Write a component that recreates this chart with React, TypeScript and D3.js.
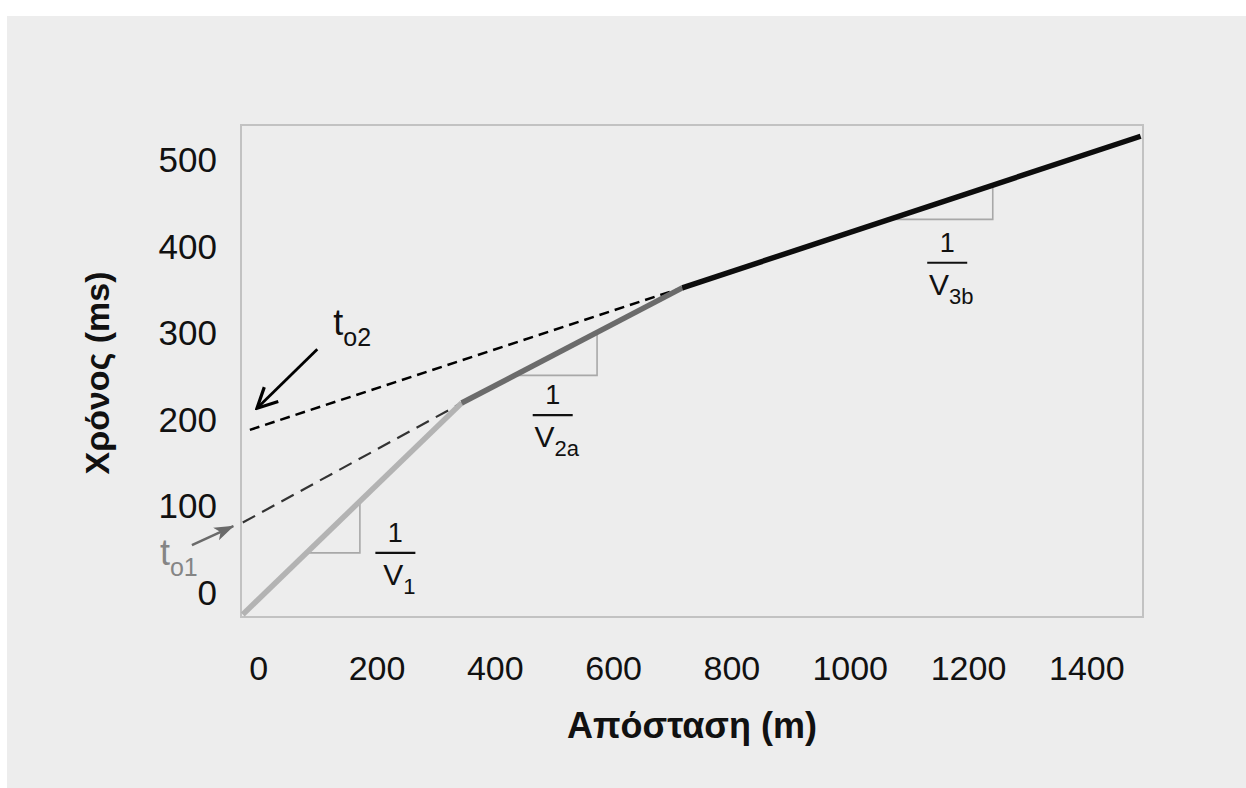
import React from "react";
import * as d3 from "d3";

// break points of the travel-time curve (distance m, time ms)
const breakX: number[] = [-27, 343, 716, 1491];
const breakT: number[] = [-25, 219, 352, 527];

// dashed back-extensions to the time axis (intercept times)
const interceptNames: string[] = ["o1", "o2"];
const interceptStartX: number[] = [-27, -15];
const interceptStartT: number[] = [81, 188];
const interceptEndX: number[] = [343, 716];
const interceptEndT: number[] = [219, 352];

// slope triangles: right-angle corner (distance, time) on each segment
const slopeNames: string[] = ["1", "2a", "3b"];
const slopeCornerX: number[] = [171, 572, 1241];
const slopeCornerT: number[] = [46, 251, 431];
const slopeLabelX: number[] = [231, 497, 1164];
const slopeLabelT: number[] = [46, 205, 381];

// t0 arrows (from -> to) and label anchors
const arrowFromX: number[] = [-113, 99];
const arrowFromT: number[] = [55, 281];
const arrowToX: number[] = [-43, -3];
const arrowToT: number[] = [77, 213];
const arrowLabelX: number[] = [-167, 126];
const arrowLabelT: number[] = [32, 297];

const xTicks: number[] = [0, 200, 400, 600, 800, 1000, 1200, 1400];
const yTicks: number[] = [0, 100, 200, 300, 400, 500];

const App: React.FC = () => {
    const width = 1246;
    const height = 788;
    const left = 241;
    const right = 1143;
    const top = 125;
    const bottom = 617;
    const font = "'Liberation Sans', Arial, sans-serif";

    const x = d3.scaleLinear().domain([-30, 1495]).range([left, right]);
    const y = d3.scaleLinear().domain([-28, 540]).range([bottom, top]);

    const segColors = ["#b3b3b3", "#6b6b6b", "#0d0d0d"];
    const segments = segColors.map((c, i) => ({
        color: c,
        f: d3.scaleLinear().domain([breakX[i], breakX[i + 1]]).range([breakT[i], breakT[i + 1]]),
    }));

    const line = d3.line<[number, number]>().x(d => x(d[0])).y(d => y(d[1]));

    return (
        <svg width={width} height={height} style={{ position: "absolute", left: 0, top: 0 }}>
            <defs>
                <marker id="open" markerUnits="userSpaceOnUse" viewBox="0 0 24 24" refX="22" refY="12"
                    markerWidth="24" markerHeight="24" orient="auto">
                    <path d="M2,2 L22,12 L2,22" fill="none" stroke="#000" strokeWidth={3.2} />
                </marker>
                <marker id="filled" markerUnits="userSpaceOnUse" viewBox="0 0 20 16" refX="19" refY="8"
                    markerWidth="20" markerHeight="16" orient="auto">
                    <path d="M0,1 L20,8 L0,15 L5,8 Z" fill="#6a6a6a" />
                </marker>
            </defs>
            <rect x={0} y={0} width={width} height={height} fill="#fff" />
            <rect x={7} y={16} width={width - 7} height={height - 16} fill="#ededed" />

            {/* Frame */}
            <rect x={left} y={top} width={right - left} height={bottom - top} fill="none" stroke="#c2c2c2" strokeWidth={2} />

            {/* Slope triangles */}
            {slopeNames.map((n, i) => {
                const f = segments[i].f;
                const cx = slopeCornerX[i];
                const ct = slopeCornerT[i];
                const x0 = f.invert(ct);
                const t1 = f(cx);
                return (
                    <polyline key={`tri-${n}`}
                        points={`${x(x0)},${y(ct)} ${x(cx)},${y(ct)} ${x(cx)},${y(t1)}`}
                        fill="none" stroke="#a8a8a8" strokeWidth={1.6} />
                );
            })}

            {/* Dashed intercept lines */}
            {interceptNames.map((n, i) => (
                <path key={`dash-${n}`}
                    d={line([[interceptStartX[i], interceptStartT[i]], [interceptEndX[i], interceptEndT[i]]]) as string}
                    stroke={i === 0 ? "#333" : "#000"} strokeWidth={i === 0 ? 2.2 : 2.5}
                    strokeDasharray={i === 0 ? "14 8" : "10 6"} fill="none" />
            ))}

            {/* Travel-time segments */}
            {segments.map((s, i) => (
                <path key={`seg-${i}`}
                    d={line([[breakX[i], breakT[i]], [breakX[i + 1], breakT[i + 1]]]) as string}
                    stroke={s.color} strokeWidth={5.5} fill="none" strokeLinecap="butt" />
            ))}

            {/* Slope labels 1/V */}
            {slopeNames.map((n, i) => {
                const bx = x(slopeLabelX[i]);
                const by = y(slopeLabelT[i]);
                return (
                    <g key={`lab-${n}`} fontFamily={font} fill="#111">
                        <text x={bx} y={by - 11} textAnchor="middle" fontSize={27}>1</text>
                        <line x1={bx - 20} x2={bx + 20} y1={by} y2={by} stroke="#111" strokeWidth={2.2} />
                        <text x={bx + 4} y={by + 32} textAnchor="middle" fontSize={30}>
                            V<tspan fontSize={22} dy={9}>{n}</tspan>
                        </text>
                    </g>
                );
            })}

            {/* t0 arrows */}
            {interceptNames.map((n, i) => (
                <g key={`arrow-${n}`}>
                    <line x1={x(arrowFromX[i])} y1={y(arrowFromT[i])} x2={x(arrowToX[i])} y2={y(arrowToT[i])}
                        stroke={i === 0 ? "#6a6a6a" : "#000"} strokeWidth={i === 0 ? 2.5 : 2.8}
                        markerEnd={i === 0 ? "url(#filled)" : "url(#open)"} />
                    <text x={x(arrowLabelX[i])} y={y(arrowLabelT[i])} fontFamily={font} fontSize={36}
                        fill={i === 0 ? "#858585" : "#111"}>
                        t<tspan fontSize={25} dy={11}>{n}</tspan>
                    </text>
                </g>
            ))}

            {/* X-axis labels */}
            {xTicks.map(t => (
                <text key={`xt-${t}`} x={x(t)} y={680} textAnchor="middle" fontFamily={font} fontSize={34} fill="#111">
                    {t}
                </text>
            ))}
            {/* Y-axis labels */}
            {yTicks.map(t => (
                <text key={`yt-${t}`} x={217} y={y(t)} dy="0.35em" textAnchor="end" fontFamily={font} fontSize={35} fill="#111">
                    {t}
                </text>
            ))}

            {/* Axis titles */}
            <text x={692} y={738} textAnchor="middle" fontFamily={font} fontSize={36} fontWeight="bold" fill="#111">
                Απόσταση (m)
            </text>
            <text transform={`translate(109,373) rotate(-90)`} textAnchor="middle" fontFamily={font} fontSize={34}
                fontWeight="bold" fill="#111">
                Χρόνος (ms)
            </text>
        </svg>
    );
};

export default App;
